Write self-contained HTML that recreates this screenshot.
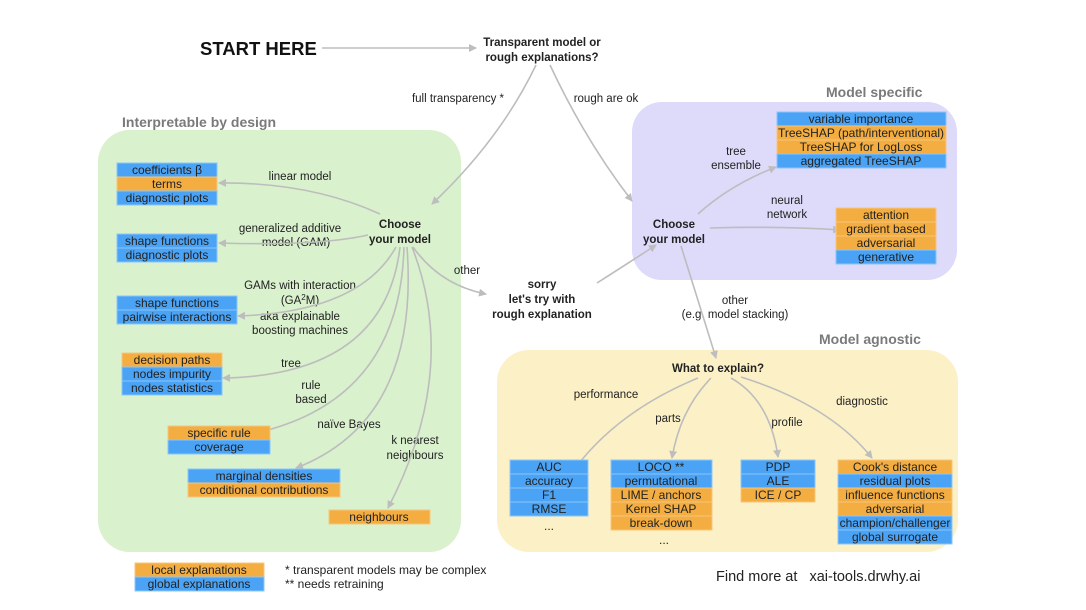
<!DOCTYPE html>
<html><head><meta charset="utf-8"><style>
html,body{margin:0;padding:0;background:#fff}
svg{display:block}
text{font-family:"Liberation Sans",sans-serif;fill:#222}
.b text,.t{font-size:12px}
.l{font-size:11.5px;text-anchor:middle}
.b .l{font-size:12px}
.h{font-size:14px;font-weight:bold;fill:#7a7a7a}
.n{font-size:11.5px;font-weight:bold;text-anchor:middle}
.bl{fill:#4aa3f5;stroke:#8cc6fa;stroke-width:1}
.or{fill:#f3ad41;stroke:#f7c77d;stroke-width:1}
.a{fill:none;stroke:#bdbdbd;stroke-width:1.6;marker-end:url(#ar)}
</style></head><body>
<svg width="1086" height="610" viewBox="0 0 1086 610" xmlns="http://www.w3.org/2000/svg">
<defs><marker id="ar" markerWidth="8" markerHeight="8" refX="7" refY="4" orient="auto" markerUnits="userSpaceOnUse"><path d="M0,0 L8,4 L0,8 z" fill="#bdbdbd"/></marker></defs>

<rect x="98" y="130" width="363" height="422" rx="32" fill="#d9f1cd"/>
<rect x="632" y="102" width="325" height="178" rx="30" fill="#dddafa"/>
<rect x="497" y="350" width="461" height="202" rx="32" fill="#fcf0c6"/>

<text class="h" x="122" y="127">Interpretable by design</text>
<text class="h" x="826" y="97">Model specific</text>
<text class="h" x="819" y="344">Model agnostic</text>

<text x="200" y="55" style="font-size:18.5px;font-weight:bold;fill:#111">START HERE</text>
<text class="n" x="542" y="46">Transparent model or</text>
<text class="n" x="542" y="61">rough explanations?</text>
<text class="l" x="458" y="102">full transparency *</text>
<text class="l" x="606" y="102">rough are ok</text>

<text class="n" x="400" y="228">Choose</text>
<text class="n" x="400" y="243">your model</text>
<text class="n" x="674" y="228">Choose</text>
<text class="n" x="674" y="243">your model</text>
<text class="n" x="542" y="288">sorry</text>
<text class="n" x="542" y="303">let's try with</text>
<text class="n" x="542" y="318">rough explanation</text>
<text class="n" x="718" y="372">What to explain?</text>

<text class="l" x="300" y="180">linear model</text>
<text class="l" x="290" y="232">generalized additive</text>
<text class="l" x="296" y="246">model (GAM)</text>
<text class="l" x="300" y="289">GAMs with interaction</text>
<text class="l" x="300" y="304">(GA<tspan dy="-4" font-size="8">2</tspan><tspan dy="4">M)</tspan></text>
<text class="l" x="300" y="320">aka explainable</text>
<text class="l" x="300" y="334">boosting machines</text>
<text class="l" x="291" y="367">tree</text>
<text class="l" x="311" y="389">rule</text>
<text class="l" x="311" y="403">based</text>
<text class="l" x="349" y="428">naïve Bayes</text>
<text class="l" x="415" y="444">k nearest</text>
<text class="l" x="415" y="459">neighbours</text>
<text class="l" x="467" y="274">other</text>
<text class="l" x="736" y="155">tree</text>
<text class="l" x="736" y="169">ensemble</text>
<text class="l" x="787" y="204">neural</text>
<text class="l" x="787" y="218">network</text>
<text class="l" x="735" y="304">other</text>
<text class="l" x="735" y="318">(e.g. model stacking)</text>
<text class="l" x="606" y="398">performance</text>
<text class="l" x="668" y="422">parts</text>
<text class="l" x="787" y="426">profile</text>
<text class="l" x="862" y="405">diagnostic</text>

<path class="a" d="M322,48 L476,48"/>
<path class="a" d="M536,65 Q500,140 432,204"/>
<path class="a" d="M550,65 Q585,140 632,201"/>
<path class="a" d="M380,214 Q310,182 219,183"/>
<path class="a" d="M368,235 Q320,246 219,243"/>
<path class="a" d="M396,247 Q360,312 238,316"/>
<path class="a" d="M400,247 Q385,375 223,378"/>
<path class="a" d="M404,247 Q400,400 256,433"/>
<path class="a" d="M407,247 Q420,420 296,468"/>
<path class="a" d="M412,247 Q460,370 388,508"/>
<path class="a" d="M413,247 Q440,285 486,294"/>
<path class="a" d="M597,283 Q630,262 656,245"/>
<path class="a" d="M698,214 Q730,185 776,167"/>
<path class="a" d="M710,228 Q780,226 840,230"/>
<path class="a" d="M681,246 L716,358"/>
<path class="a" d="M698,378 Q620,410 576,467"/>
<path class="a" d="M711,378 Q680,410 672,458"/>
<path class="a" d="M731,378 Q770,400 778,457"/>
<path class="a" d="M741,377 Q830,405 872,458"/>

<g class="b">
<rect class="bl" x="117" y="163" width="100" height="14"/><text class="l" x="167" y="174">coefficients β</text>
<rect class="or" x="117" y="177" width="100" height="14"/><text class="l" x="167" y="188">terms</text>
<rect class="bl" x="117" y="191" width="100" height="14"/><text class="l" x="167" y="202">diagnostic plots</text>

<rect class="bl" x="117" y="234" width="100" height="14"/><text class="l" x="167" y="245">shape functions</text>
<rect class="bl" x="117" y="248" width="100" height="14"/><text class="l" x="167" y="259">diagnostic plots</text>

<rect class="bl" x="117" y="296" width="120" height="14"/><text class="l" x="177" y="307">shape functions</text>
<rect class="bl" x="117" y="310" width="120" height="14"/><text class="l" x="177" y="321">pairwise interactions</text>

<rect class="or" x="122" y="353" width="100" height="14"/><text class="l" x="172" y="364">decision paths</text>
<rect class="bl" x="122" y="367" width="100" height="14"/><text class="l" x="172" y="378">nodes impurity</text>
<rect class="bl" x="122" y="381" width="100" height="14"/><text class="l" x="172" y="392">nodes statistics</text>

<rect class="or" x="168" y="426" width="102" height="14"/><text class="l" x="219" y="437">specific rule</text>
<rect class="bl" x="168" y="440" width="102" height="14"/><text class="l" x="219" y="451">coverage</text>

<rect class="bl" x="188" y="469" width="152" height="14"/><text class="l" x="264" y="480">marginal densities</text>
<rect class="or" x="188" y="483" width="152" height="14"/><text class="l" x="264" y="494">conditional contributions</text>

<rect class="or" x="329" y="510" width="101" height="14"/><text class="l" x="379" y="521">neighbours</text>

<rect class="or" x="135" y="563" width="129" height="14"/><text class="l" x="199" y="574">local explanations</text>
<rect class="bl" x="135" y="577" width="129" height="14"/><text class="l" x="199" y="588">global explanations</text>

<rect class="bl" x="777" y="112" width="169" height="14"/><text class="l" x="861" y="123">variable importance</text>
<rect class="or" x="777" y="126" width="169" height="14"/><text class="l" x="861" y="137">TreeSHAP (path/interventional)</text>
<rect class="or" x="777" y="140" width="169" height="14"/><text class="l" x="861" y="151">TreeSHAP for LogLoss</text>
<rect class="bl" x="777" y="154" width="169" height="14"/><text class="l" x="861" y="165">aggregated TreeSHAP</text>

<rect class="or" x="836" y="208" width="100" height="14"/><text class="l" x="886" y="219">attention</text>
<rect class="or" x="836" y="222" width="100" height="14"/><text class="l" x="886" y="233">gradient based</text>
<rect class="or" x="836" y="236" width="100" height="14"/><text class="l" x="886" y="247">adversarial</text>
<rect class="bl" x="836" y="250" width="100" height="14"/><text class="l" x="886" y="261">generative</text>

<rect class="bl" x="510" y="460" width="78" height="14"/><text class="l" x="549" y="471">AUC</text>
<rect class="bl" x="510" y="474" width="78" height="14"/><text class="l" x="549" y="485">accuracy</text>
<rect class="bl" x="510" y="488" width="78" height="14"/><text class="l" x="549" y="499">F1</text>
<rect class="bl" x="510" y="502" width="78" height="14"/><text class="l" x="549" y="513">RMSE</text>
<text class="l" x="549" y="530">...</text>

<rect class="bl" x="611" y="460" width="101" height="14"/><text class="l" x="661" y="471">LOCO **</text>
<rect class="bl" x="611" y="474" width="101" height="14"/><text class="l" x="661" y="485">permutational</text>
<rect class="or" x="611" y="488" width="101" height="14"/><text class="l" x="661" y="499">LIME / anchors</text>
<rect class="or" x="611" y="502" width="101" height="14"/><text class="l" x="661" y="513">Kernel SHAP</text>
<rect class="or" x="611" y="516" width="101" height="14"/><text class="l" x="661" y="527">break-down</text>
<text class="l" x="664" y="544">...</text>

<rect class="bl" x="741" y="460" width="74" height="14"/><text class="l" x="778" y="471">PDP</text>
<rect class="bl" x="741" y="474" width="74" height="14"/><text class="l" x="778" y="485">ALE</text>
<rect class="or" x="741" y="488" width="74" height="14"/><text class="l" x="778" y="499">ICE / CP</text>

<rect class="or" x="838" y="460" width="114" height="14"/><text class="l" x="895" y="471">Cook's distance</text>
<rect class="bl" x="838" y="474" width="114" height="14"/><text class="l" x="895" y="485">residual plots</text>
<rect class="or" x="838" y="488" width="114" height="14"/><text class="l" x="895" y="499">influence functions</text>
<rect class="or" x="838" y="502" width="114" height="14"/><text class="l" x="895" y="513">adversarial</text>
<rect class="bl" x="838" y="516" width="114" height="14"/><text class="l" x="895" y="527">champion/challenger</text>
<rect class="bl" x="838" y="530" width="114" height="14"/><text class="l" x="895" y="541">global surrogate</text>
</g>

<text class="t" x="285" y="574">*  transparent models may be complex</text>
<text class="t" x="285" y="588">** needs retraining</text>
<text x="716" y="581" style="font-size:14.5px" xml:space="preserve">Find more at   xai-tools.drwhy.ai</text>
</svg>
</body></html>
